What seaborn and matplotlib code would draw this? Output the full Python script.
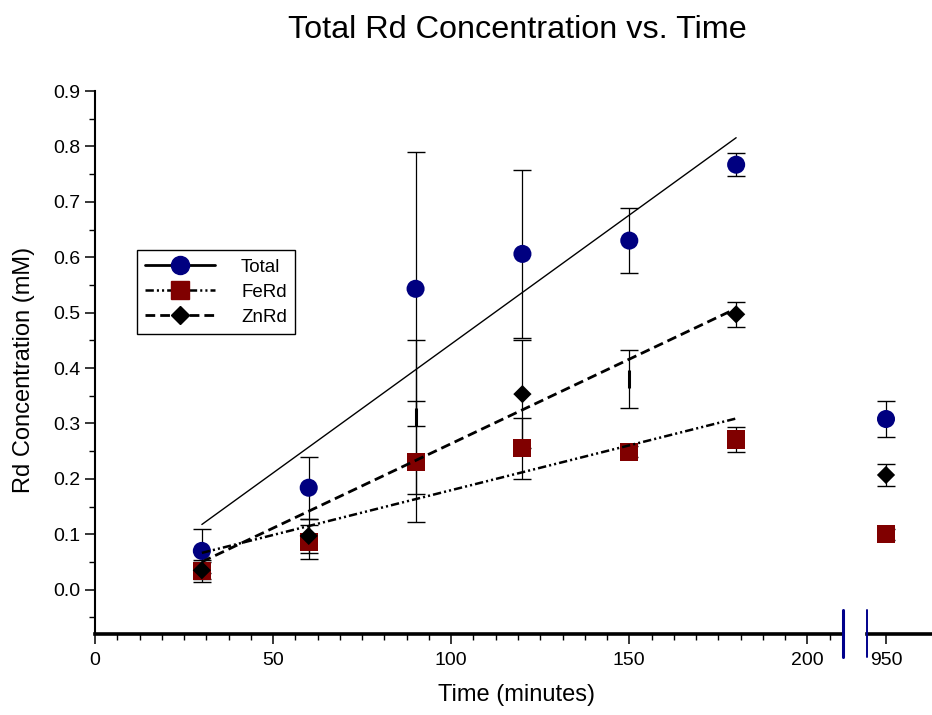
import matplotlib
matplotlib.use("Agg")
import matplotlib.pyplot as plt
import seaborn as sns
import pandas as pd
from matplotlib.lines import Line2D
from matplotlib.ticker import MultipleLocator, FormatStrFormatter, FixedLocator

# ---------------- data ----------------
times = [30, 60, 90, 120, 150, 180]
late_time = [950]

total = [0.070, 0.184, 0.543, 0.606, 0.630, 0.767]
total_err = [0.040, 0.056, 0.247, 0.152, 0.058, 0.021]
total_late = [0.308]
total_late_err = [0.032]

ferd = [0.034, 0.086, 0.231, 0.255, 0.249, 0.271]
ferd_err = [0.020, 0.030, 0.109, 0.055, 0.010, 0.023]
ferd_late = [0.100]
ferd_late_err = [0.010]

znrd = [0.035, 0.097, 0.311, 0.353, 0.380, 0.497]
znrd_err = [0.015, 0.030, 0.139, 0.097, 0.053, 0.023]
znrd_late = [0.207]
znrd_late_err = [0.019]

series_names = ["Total", "FeRd", "ZnRd"]
title = "Total Rd Concentration vs. Time"
xlabel = "Time (minutes)"
ylabel = "Rd Concentration (mM)"

# ---------------- style ----------------
sns.set_style("ticks")
plt.rcParams["font.family"] = ["Liberation Sans", "DejaVu Sans"]
plt.rcParams["lines.scale_dashes"] = False
plt.rcParams["text.color"] = "black"
plt.rcParams["axes.edgecolor"] = "black"
plt.rcParams["xtick.color"] = "black"
plt.rcParams["ytick.color"] = "black"
plt.rcParams["axes.labelcolor"] = "black"

W, H = 932, 715
fig = plt.figure(figsize=(W / 100, H / 100), dpi=100)
ax_bottom = 1 - 634 / H
ax_height = (634 - 91) / H
ax = fig.add_axes([95 / W, ax_bottom, (843 - 95) / W, ax_height])
ax2 = fig.add_axes([867 / W, ax_bottom, (932 - 867) / W, ax_height])

styles = {
    "Total": dict(color="#000080", marker="o", s=13 ** 2, ls="-", lw=1.0),
    "FeRd": dict(color="#800000", marker="s", s=13 ** 2, ls=(0, (6, 2.2, 1.5, 2.2, 1.5, 2.2)), lw=1.8),
    "ZnRd": dict(color="black", marker="D", s=9.3 ** 2, ls=(0, (7, 3.6)), lw=2.0),
}
# ZnRd markers at 90 and 150 min appear only as short bars in the reference
znrd_diamond_shown = [True, True, False, True, False, True]

data_main = {"Total": (total, total_err), "FeRd": (ferd, ferd_err), "ZnRd": (znrd, znrd_err)}
data_late = {"Total": (total_late, total_late_err), "FeRd": (ferd_late, ferd_late_err),
             "ZnRd": (znrd_late, znrd_late_err)}

cap = 6.7
for name in series_names:
    st = styles[name]
    y, e = data_main[name]
    yl, el = data_late[name]
    # error bars
    ax.errorbar(times, y, yerr=e, fmt="none", ecolor="black", elinewidth=0.9,
                capsize=cap, capthick=1.0, zorder=2)
    ax2.errorbar(late_time, yl, yerr=el, fmt="none", ecolor="black", elinewidth=0.9,
                 capsize=cap, capthick=1.0, zorder=2)
    # markers
    df = pd.DataFrame({"t": times, "v": y})
    if name == "ZnRd":
        shown = df[znrd_diamond_shown]
        hidden = df[[not s for s in znrd_diamond_shown]]
        sns.scatterplot(data=shown, x="t", y="v", ax=ax, marker=st["marker"], s=st["s"],
                        color=st["color"], edgecolor="none", linewidth=0, zorder=3, legend=False)
        sns.scatterplot(data=hidden, x="t", y="v", ax=ax, marker="|", s=13 ** 2,
                        color="black", linewidth=2.2, zorder=3, legend=False)
    else:
        sns.scatterplot(data=df, x="t", y="v", ax=ax, marker=st["marker"], s=st["s"],
                        color=st["color"], edgecolor="none", linewidth=0, zorder=3, legend=False)
    sns.scatterplot(x=late_time, y=yl, ax=ax2, marker=st["marker"], s=st["s"],
                    color=st["color"], edgecolor="none", linewidth=0, zorder=3, legend=False)
    # linear fit over the first six time points
    sns.regplot(x=times, y=y, ax=ax, scatter=False, ci=None, truncate=True,
                line_kws=dict(color="black", lw=st["lw"], linestyle=st["ls"], zorder=4))

# ---------------- axes ----------------
for a in (ax, ax2):
    a.set_ylim(-0.08, 0.9)
    a.set_xlabel("")
    a.set_ylabel("")
    a.spines["top"].set_visible(False)
    a.spines["right"].set_visible(False)
    a.spines["bottom"].set_linewidth(2.6)
    a.spines["bottom"].set_color("black")
    a.patch.set_alpha(0)

ax.set_xlim(0, 210)
ax.xaxis.set_major_locator(MultipleLocator(50))
ax.xaxis.set_minor_locator(MultipleLocator(6.25))
ax.yaxis.set_major_locator(MultipleLocator(0.1))
ax.yaxis.set_minor_locator(MultipleLocator(0.05))
ax.yaxis.set_major_formatter(FormatStrFormatter("%.1f"))
ax.spines["left"].set_linewidth(1.5)
ax.spines["left"].set_color("black")
ax.tick_params(axis="both", which="major", direction="out", length=7, width=1.1,
               labelsize=14, color="black", labelcolor="black")
ax.tick_params(axis="both", which="minor", direction="out", length=4, width=1.0, color="black")
ax.tick_params(axis="x", which="major", pad=6)

ax2.set_xlim(950 - 19 / 3.566, 950 + 46 / 3.566)
ax2.spines["left"].set_visible(False)
ax2.xaxis.set_major_locator(FixedLocator([950]))
ax2.yaxis.set_visible(False)
ax2.tick_params(axis="x", which="major", direction="out", length=7, width=1.1,
                labelsize=14, pad=6, color="black", labelcolor="black")

# axis break marks
for a, xv, lw in ((ax, 210, 2.2), (ax2, 950 - 19 / 3.566, 1.4)):
    a.plot([xv, xv], [-0.043, 0.044], color="#00008B", lw=lw, clip_on=False,
           transform=a.get_xaxis_transform(), zorder=6)

# ---------------- texts ----------------
fig.text(517 / W, 1 - 30 / H, title, ha="center", va="center", fontsize=23.3, color="black")
fig.text(517 / W, 1 - 695 / H, xlabel, ha="center", va="center", fontsize=17, color="black")
fig.text(24 / W, 1 - 370 / H, ylabel, ha="center", va="center", rotation=90, fontsize=17,
         color="black")

# ---------------- legend ----------------
handles = []
for name in series_names:
    st = styles[name]
    ms = st["s"] ** 0.5
    handles.append(Line2D([0], [0], color="black", lw=st["lw"] if name != "Total" else 2.0,
                          linestyle=st["ls"], marker=st["marker"], markersize=ms,
                          markerfacecolor=st["color"], markeredgecolor=st["color"]))
leg = fig.legend(handles, series_names, loc="upper left",
                 bbox_to_anchor=(137 / W, 1 - 250 / H), bbox_transform=fig.transFigure,
                 frameon=True, fancybox=False, shadow=False, fontsize=13.5,
                 handlelength=3.7, handletextpad=1.4, labelspacing=0.42,
                 borderpad=0.45, borderaxespad=0, framealpha=1)
leg.get_frame().set_edgecolor("black")
leg.get_frame().set_linewidth(1.0)
for t in leg.get_texts():
    t.set_color("black")

fig.savefig("out.png", dpi=100)
